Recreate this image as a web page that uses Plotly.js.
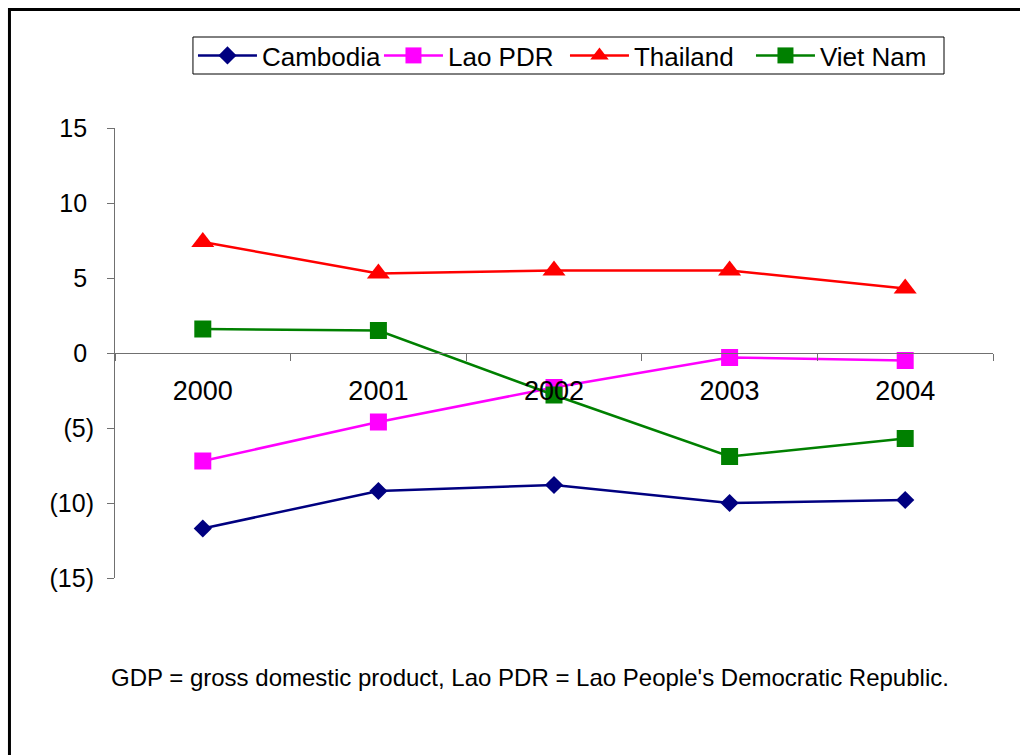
<!DOCTYPE html>
<html>
<head>
<meta charset="utf-8">
<script src="https://cdn.plot.ly/plotly-3.0.1.min.js"></script>
<style>
html,body{margin:0;padding:0;background:#fff;}
#chart{width:1020px;height:755px;}
</style>
</head>
<body>
<div id="chart"></div>
<script>
var years = ["2000", "2001", "2002", "2003", "2004"];
var cambodia = [-11.7, -9.2, -8.8, -10.0, -9.8];
var laoPDR = [-7.2, -4.6, -2.3, -0.3, -0.5];
var thailand = [7.4, 5.3, 5.5, 5.5, 4.3];
var vietNam = [1.6, 1.5, -2.8, -6.9, -5.7];
var yTickVals = [-15, -10, -5, 0, 5, 10, 15];
var yTickText = ["(15)", "(10)", "(5)", "0\u00a0", "5\u00a0", "10\u00a0", "15\u00a0"];
var footnote = "GDP = gross domestic product, Lao PDR = Lao People's Democratic Republic.";

var FONT = "Liberation Sans, Arial, sans-serif";

function mk(name, y, color, symbol, size) {
  return {
    type: "scatter", mode: "lines+markers", name: name, x: years, y: y,
    line: {color: color, width: 2.5},
    marker: {color: color, symbol: symbol, size: size, line: {width: 0}}
  };
}

var data = [
  mk("Cambodia", cambodia, "#000080", "diamond", 14),
  mk("Lao PDR", laoPDR, "#FF00FF", "square", 17),
  mk("Thailand", thailand, "#FF0000", "triangle-up", 20),
  mk("Viet Nam", vietNam, "#008000", "square", 17)
];

var layout = {
  width: 1020, height: 755,
  margin: {l: 115, r: 27, t: 128, b: 177, pad: 0},
  paper_bgcolor: "#ffffff", plot_bgcolor: "#ffffff",
  font: {family: FONT, size: 25, color: "#000"},
  showlegend: true,
  legend: {
    orientation: "h", x: 0.0888, y: 1.2133, xanchor: "left", yanchor: "top",
    borderwidth: 0, bgcolor: "rgba(0,0,0,0)",
    font: {family: FONT, size: 26, color: "#000"},
    itemwidth: 59, entrywidth: 112, tracegroupgap: 0
  },
  xaxis: {
    type: "category", range: [-0.5, 4.5], anchor: "free", position: 0.5,
    showline: true, linecolor: "#707070", linewidth: 1,
    ticks: "outside", tickson: "boundaries", ticklen: 7, tickcolor: "#707070", tickwidth: 1,
    ticklabelstandoff: 14, showgrid: false, zeroline: false, layer: "above traces",
    tickfont: {family: FONT, size: 27, color: "#000"}
  },
  yaxis: {
    range: [-15, 15], tickvals: yTickVals, ticktext: yTickText,
    showline: true, linecolor: "#707070", linewidth: 1,
    ticks: "outside", ticklen: 7, tickcolor: "#707070", tickwidth: 1,
    ticklabelstandoff: 8, showgrid: false, zeroline: false,
    tickfont: {family: FONT, size: 25, color: "#000"}
  },
  shapes: [
    {type: "rect", xref: "paper", yref: "paper", x0: -0.1202, x1: 1.06, y0: -0.45, y1: 1.2633,
     line: {color: "#000", width: 3}, fillcolor: "rgba(0,0,0,0)", layer: "above"},
    {type: "rect", xref: "paper", yref: "paper", x0: 0.0888, x1: 0.9442, y0: 1.12, y1: 1.2022,
     line: {color: "#000", width: 1}, fillcolor: "rgba(0,0,0,0)", layer: "above"}
  ],
  annotations: [
    {text: footnote, xref: "paper", yref: "paper", x: 0.4727, y: -0.22,
     xanchor: "center", yanchor: "middle", showarrow: false,
     font: {family: FONT, size: 24, color: "#000"}}
  ]
};

Plotly.newPlot("chart", data, layout, {displayModeBar: false, staticPlot: true});
</script>
</body>
</html>
